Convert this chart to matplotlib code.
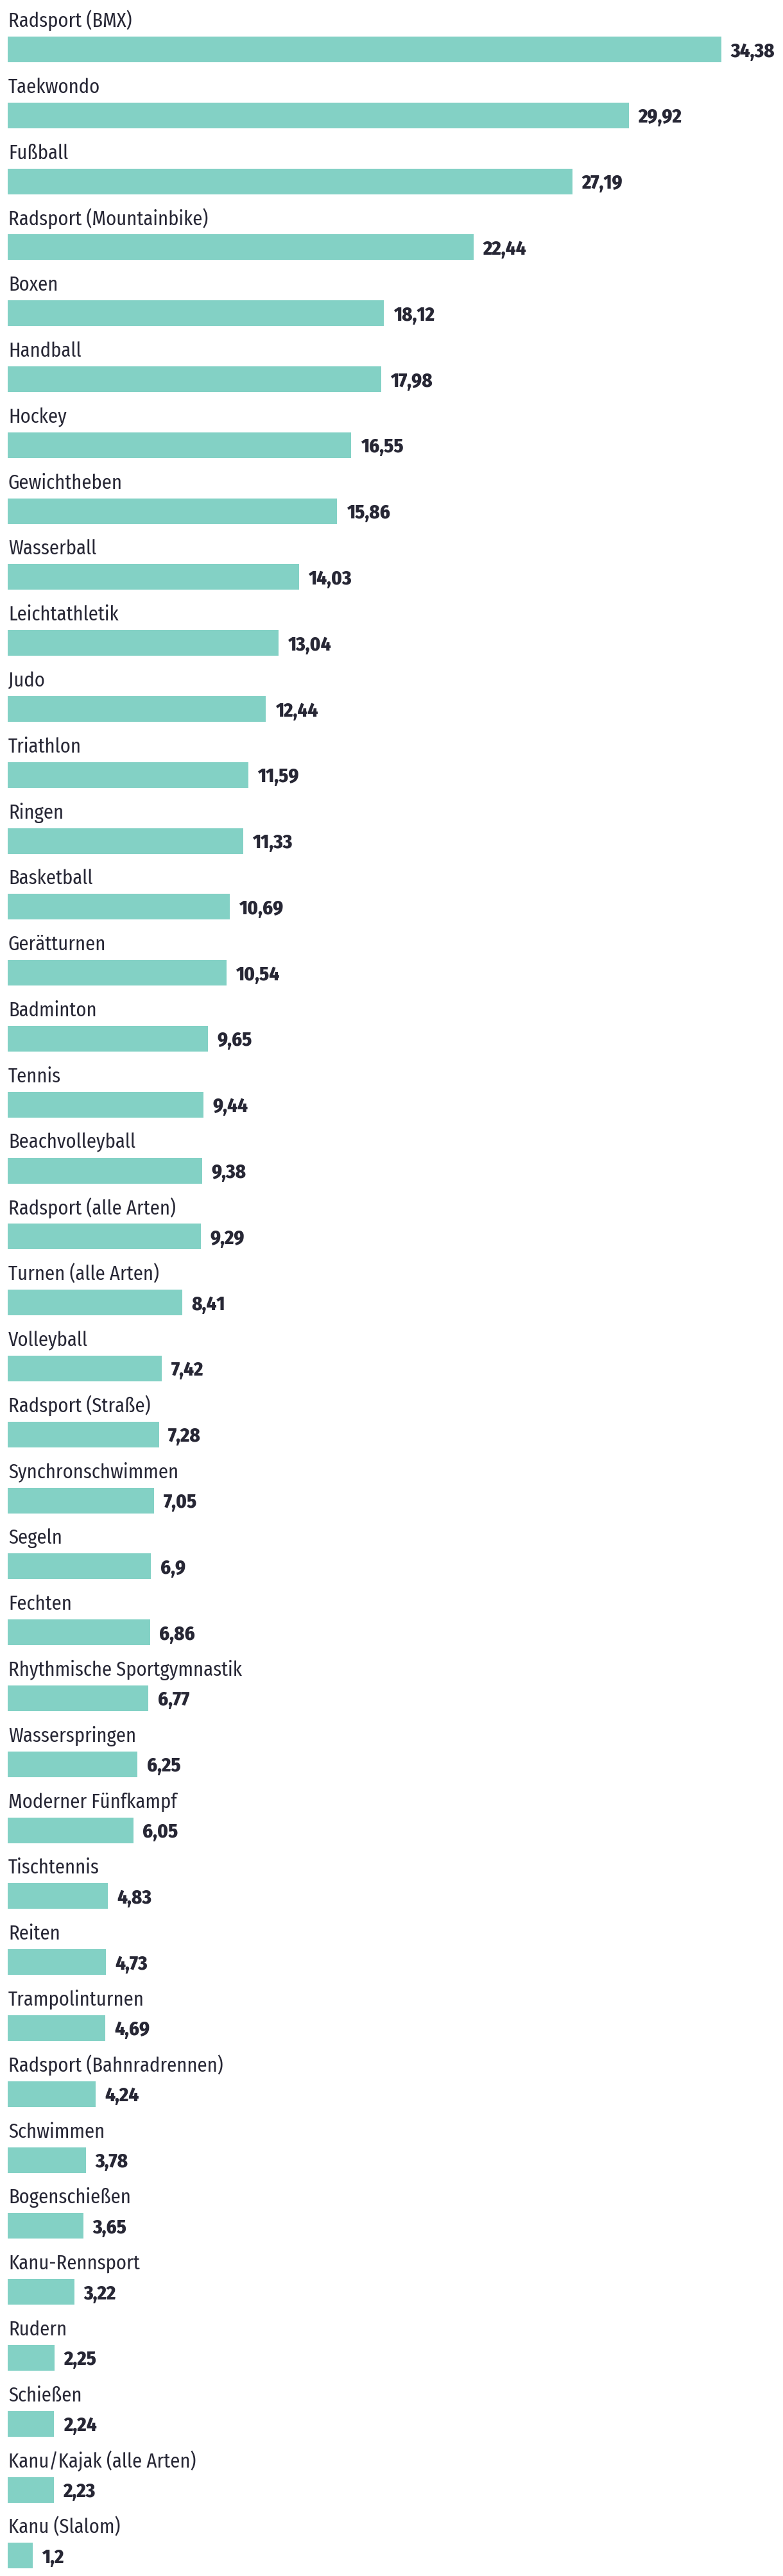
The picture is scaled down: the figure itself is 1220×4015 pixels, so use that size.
import matplotlib.pyplot as plt

sports = ['Radsport (BMX)', 'Taekwondo', 'Fußball', 'Radsport (Mountainbike)', 'Boxen',
          'Handball', 'Hockey', 'Gewichtheben', 'Wasserball', 'Leichtathletik', 'Judo',
          'Triathlon', 'Ringen', 'Basketball', 'Gerätturnen', 'Badminton', 'Tennis',
          'Beachvolleyball', 'Radsport (alle Arten)', 'Turnen (alle Arten)', 'Volleyball',
          'Radsport (Straße)', 'Synchronschwimmen', 'Segeln', 'Fechten',
          'Rhythmische Sportgymnastik', 'Wasserspringen', 'Moderner Fünfkampf', 'Tischtennis',
          'Reiten', 'Trampolinturnen', 'Radsport (Bahnradrennen)', 'Schwimmen',
          'Bogenschießen', 'Kanu-Rennsport', 'Rudern', 'Schießen', 'Kanu/Kajak (alle Arten)',
          'Kanu (Slalom)']
values = [34.38, 29.92, 27.19, 22.44, 18.12, 17.98, 16.55, 15.86, 14.03, 13.04, 12.44,
          11.59, 11.33, 10.69, 10.54, 9.65, 9.44, 9.38, 9.29, 8.41, 7.42, 7.28, 7.05, 6.9,
          6.86, 6.77, 6.25, 6.05, 4.83, 4.73, 4.69, 4.24, 3.78, 3.65, 3.22, 2.25, 2.24,
          2.23, 1.2]

plt.rcParams['font.family'] = ['Fira Sans Condensed', 'DejaVu Sans']
bar_color = '#83d1c5'
text_color = '#272735'

fig = plt.figure(figsize=(12.2, 40.16), dpi=100)
ax = fig.add_axes([12 / 1220, 0, 1 - 12 / 1220, 1])

pitch = 102.8   # px between rows
scale = 32.35   # px per unit
bar_h = 40 / pitch
pos = list(range(len(sports)))
ax.barh(pos, values, height=bar_h, color=bar_color)

for i, (name, v) in enumerate(zip(sports, values)):
    ax.text(0.03, i - bar_h / 2 - 16 / pitch, name, fontsize=22, color=text_color,
            va='baseline', ha='left')
    # German decimal comma
    ax.text(v + 14.5 / scale, i + 10.5 / pitch, f'{v:g}'.replace('.', ','), fontsize=22,
            fontweight=800, color=text_color, va='baseline', ha='left')

ax.set_xlim(0, 1208 / scale)
ax.set_ylim((4016 - 78) / pitch, -78 / pitch)
ax.axis('off')

fig.savefig('out.png', dpi=100)
